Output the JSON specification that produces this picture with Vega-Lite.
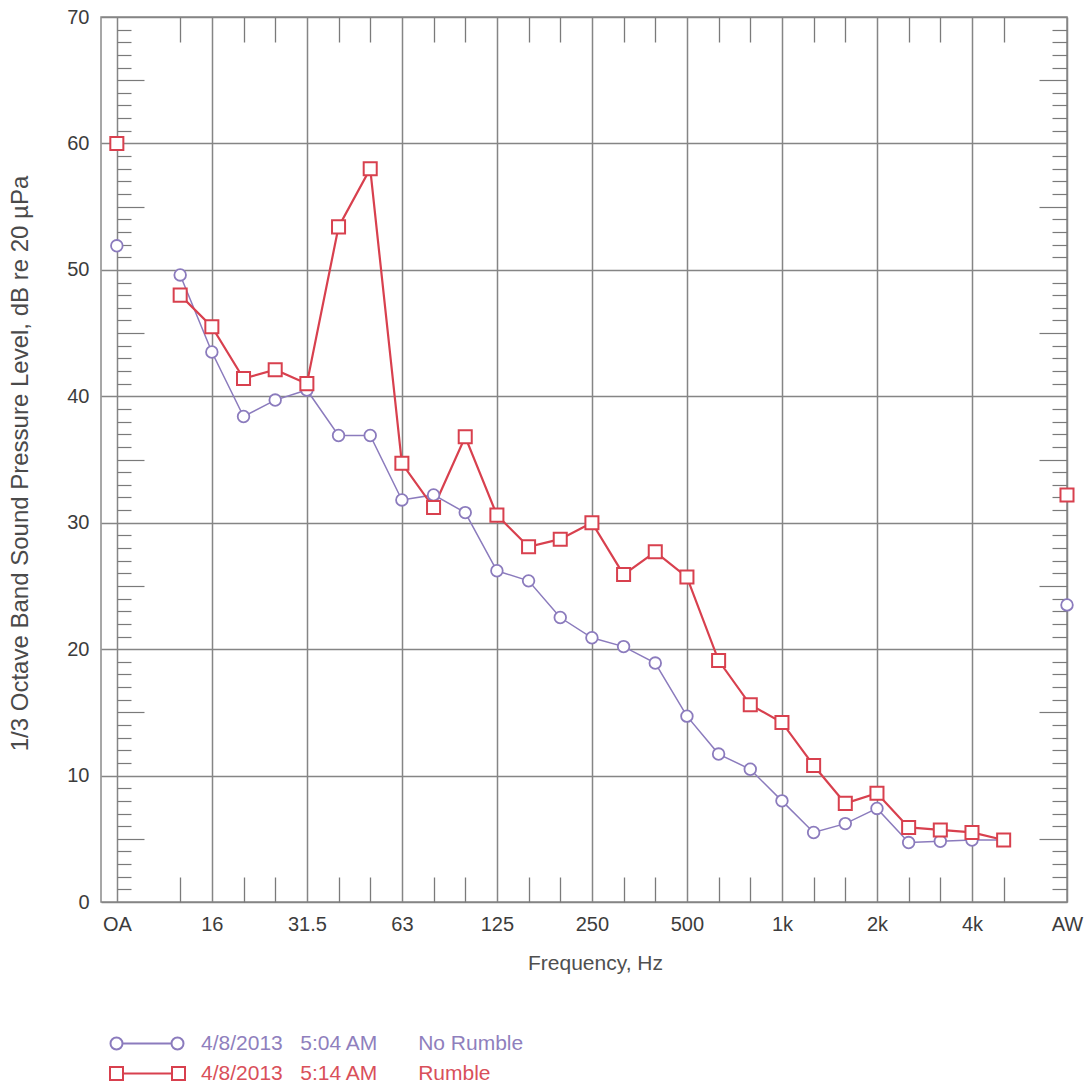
{
  "$schema": "https://vega.github.io/schema/vega-lite/v6.json",
  "width": 966,
  "height": 885,
  "autosize": {"type": "none"},
  "padding": {"left": 101, "top": 17, "right": 24, "bottom": 187},
  "background": "white",
  "config": {
    "font": "Liberation Sans",
    "view": {"stroke": "#8a8a8a", "strokeWidth": 1.5},
    "axis": {"domain": false, "labelFont": "Liberation Sans", "titleFont": "Liberation Sans"}
  },
  "data": {
    "values": [
      {"idx": 0, "band": "OA", "series": "No Rumble", "db": 51.9},
      {"idx": 2, "band": "12.5", "series": "No Rumble", "db": 49.6},
      {"idx": 3, "band": "16", "series": "No Rumble", "db": 43.5},
      {"idx": 4, "band": "20", "series": "No Rumble", "db": 38.4},
      {"idx": 5, "band": "25", "series": "No Rumble", "db": 39.7},
      {"idx": 6, "band": "31.5", "series": "No Rumble", "db": 40.5},
      {"idx": 7, "band": "40", "series": "No Rumble", "db": 36.9},
      {"idx": 8, "band": "50", "series": "No Rumble", "db": 36.9},
      {"idx": 9, "band": "63", "series": "No Rumble", "db": 31.8},
      {"idx": 10, "band": "80", "series": "No Rumble", "db": 32.2},
      {"idx": 11, "band": "100", "series": "No Rumble", "db": 30.8},
      {"idx": 12, "band": "125", "series": "No Rumble", "db": 26.2},
      {"idx": 13, "band": "160", "series": "No Rumble", "db": 25.4},
      {"idx": 14, "band": "200", "series": "No Rumble", "db": 22.5},
      {"idx": 15, "band": "250", "series": "No Rumble", "db": 20.9},
      {"idx": 16, "band": "315", "series": "No Rumble", "db": 20.2},
      {"idx": 17, "band": "400", "series": "No Rumble", "db": 18.9},
      {"idx": 18, "band": "500", "series": "No Rumble", "db": 14.7},
      {"idx": 19, "band": "630", "series": "No Rumble", "db": 11.7},
      {"idx": 20, "band": "800", "series": "No Rumble", "db": 10.5},
      {"idx": 21, "band": "1k", "series": "No Rumble", "db": 8.0},
      {"idx": 22, "band": "1.25k", "series": "No Rumble", "db": 5.5},
      {"idx": 23, "band": "1.6k", "series": "No Rumble", "db": 6.2},
      {"idx": 24, "band": "2k", "series": "No Rumble", "db": 7.4},
      {"idx": 25, "band": "2.5k", "series": "No Rumble", "db": 4.7},
      {"idx": 26, "band": "3.15k", "series": "No Rumble", "db": 4.8},
      {"idx": 27, "band": "4k", "series": "No Rumble", "db": 4.9},
      {"idx": 28, "band": "5k", "series": "No Rumble", "db": 4.9},
      {"idx": 30, "band": "AW", "series": "No Rumble", "db": 23.5},
      {"idx": 0, "band": "OA", "series": "Rumble", "db": 60.0},
      {"idx": 2, "band": "12.5", "series": "Rumble", "db": 48.0},
      {"idx": 3, "band": "16", "series": "Rumble", "db": 45.5},
      {"idx": 4, "band": "20", "series": "Rumble", "db": 41.4},
      {"idx": 5, "band": "25", "series": "Rumble", "db": 42.1},
      {"idx": 6, "band": "31.5", "series": "Rumble", "db": 41.0},
      {"idx": 7, "band": "40", "series": "Rumble", "db": 53.4},
      {"idx": 8, "band": "50", "series": "Rumble", "db": 58.0},
      {"idx": 9, "band": "63", "series": "Rumble", "db": 34.7},
      {"idx": 10, "band": "80", "series": "Rumble", "db": 31.2},
      {"idx": 11, "band": "100", "series": "Rumble", "db": 36.8},
      {"idx": 12, "band": "125", "series": "Rumble", "db": 30.6},
      {"idx": 13, "band": "160", "series": "Rumble", "db": 28.1},
      {"idx": 14, "band": "200", "series": "Rumble", "db": 28.7},
      {"idx": 15, "band": "250", "series": "Rumble", "db": 30.0},
      {"idx": 16, "band": "315", "series": "Rumble", "db": 25.9},
      {"idx": 17, "band": "400", "series": "Rumble", "db": 27.7},
      {"idx": 18, "band": "500", "series": "Rumble", "db": 25.7},
      {"idx": 19, "band": "630", "series": "Rumble", "db": 19.1},
      {"idx": 20, "band": "800", "series": "Rumble", "db": 15.6},
      {"idx": 21, "band": "1k", "series": "Rumble", "db": 14.2},
      {"idx": 22, "band": "1.25k", "series": "Rumble", "db": 10.8},
      {"idx": 23, "band": "1.6k", "series": "Rumble", "db": 7.8},
      {"idx": 24, "band": "2k", "series": "Rumble", "db": 8.6},
      {"idx": 25, "band": "2.5k", "series": "Rumble", "db": 5.9},
      {"idx": 26, "band": "3.15k", "series": "Rumble", "db": 5.7},
      {"idx": 27, "band": "4k", "series": "Rumble", "db": 5.5},
      {"idx": 28, "band": "5k", "series": "Rumble", "db": 4.9},
      {"idx": 30, "band": "AW", "series": "Rumble", "db": 32.2}
    ]
  },
  "resolve": {"axis": {"x": "independent", "y": "independent"}},
  "layer": [
    {
      "transform": [{"filter": "datum.idx >= 2 && datum.idx <= 28"}],
      "mark": {"type": "line"},
      "encoding": {
        "x": {
          "field": "idx", "type": "quantitative",
          "scale": {"domain": [-0.5, 30], "nice": false, "zero": false},
          "axis": {
            "orient": "bottom", "values": [0, 3, 6, 9, 12, 15, 18, 21, 24, 27, 30],
            "labelExpr": "['OA','16','31.5','63','125','250','500','1k','2k','4k','AW'][round(datum.value/3)]",
            "grid": true, "gridColor": "#858585", "gridWidth": 1.5,
            "ticks": false, "domain": false, "labelFlush": false, "labelOverlap": false,
            "labelFontSize": 20, "labelColor": "#3c3c3c", "labelPadding": 12,
            "title": "Frequency, Hz", "titleFontSize": 21, "titleFontWeight": "normal",
            "titleColor": "#4f4f4f", "titleX": 494, "titleY": 61, "titleBaseline": "middle"
          }
        },
        "y": {
          "field": "db", "type": "quantitative",
          "scale": {"domain": [0, 70], "nice": false, "zero": false},
          "axis": {
            "orient": "left", "values": [0, 10, 20, 30, 40, 50, 60, 70],
            "grid": true, "gridColor": "#858585", "gridWidth": 1.5,
            "ticks": false, "domain": false,
            "labelFontSize": 20, "labelColor": "#3c3c3c", "labelPadding": 12,
            "title": "1/3 Octave Band Sound Pressure Level, dB re 20 µPa",
            "titleFontSize": 24, "titleFontWeight": "normal", "titleColor": "#4a4a4a",
            "titleX": -81, "titleY": 446, "titleBaseline": "middle"
          }
        },
        "stroke": {
          "field": "series", "type": "nominal",
          "scale": {"domain": ["Rumble", "No Rumble"], "range": ["#d8404e", "#8b7bbd"]},
          "legend": null
        },
        "strokeWidth": {
          "field": "series", "type": "nominal",
          "scale": {"domain": ["Rumble", "No Rumble"], "range": [2.2, 1.5]},
          "legend": null
        }
      }
    },
    {
      "transform": [{"filter": "datum.series === 'No Rumble'"}],
      "mark": {"type": "point", "shape": "circle", "size": 135, "filled": false, "stroke": "#8b7bbd", "fill": "white", "strokeWidth": 1.8, "opacity": 1},
      "encoding": {
        "x": {
          "field": "idx", "type": "quantitative",
          "axis": {
            "orient": "bottom",
            "values": [2, 4, 5, 7, 8, 10, 11, 13, 14, 16, 17, 19, 20, 22, 23, 25, 26, 28],
            "tickSize": -25, "tickColor": "#7a7a7a", "tickWidth": 1.3,
            "labels": false, "grid": false, "domain": false, "title": null
          }
        },
        "y": {
          "field": "db", "type": "quantitative",
          "axis": {
            "orient": "left", "offset": -16,
            "values": [1,2,3,4,5,6,7,8,9,11,12,13,14,15,16,17,18,19,21,22,23,24,25,26,27,28,29,31,32,33,34,35,36,37,38,39,41,42,43,44,45,46,47,48,49,51,52,53,54,55,56,57,58,59,61,62,63,64,65,66,67,68,69],
            "tickSize": {"condition": {"test": "datum.value % 5 === 0", "value": -27}, "value": -14},
            "tickColor": "#7a7a7a", "tickWidth": 1.2,
            "labels": false, "grid": false, "domain": false, "title": null
          }
        }
      }
    },
    {
      "transform": [{"filter": "datum.series === 'Rumble'"}],
      "mark": {"type": "point", "shape": "square", "size": 170, "filled": false, "stroke": "#d8404e", "fill": "white", "strokeWidth": 2, "opacity": 1},
      "encoding": {
        "x": {
          "field": "idx", "type": "quantitative",
          "axis": {
            "orient": "top",
            "values": [2, 4, 5, 7, 8, 10, 11, 13, 14, 16, 17, 19, 20, 22, 23, 25, 26, 28],
            "tickSize": -25, "tickColor": "#7a7a7a", "tickWidth": 1.3,
            "labels": false, "grid": false, "domain": false, "title": null
          }
        },
        "y": {
          "field": "db", "type": "quantitative",
          "axis": {
            "orient": "right",
            "values": [1,2,3,4,5,6,7,8,9,11,12,13,14,15,16,17,18,19,21,22,23,24,25,26,27,28,29,31,32,33,34,35,36,37,38,39,41,42,43,44,45,46,47,48,49,51,52,53,54,55,56,57,58,59,61,62,63,64,65,66,67,68,69],
            "tickSize": {"condition": {"test": "datum.value % 5 === 0", "value": -28}, "value": -15},
            "tickColor": "#7a7a7a", "tickWidth": 1.2,
            "labels": false, "grid": false, "domain": false, "title": null
          }
        }
      }
    },
    {
      "transform": [{"filter": "false"}],
      "mark": {"type": "point", "size": 4, "filled": false, "strokeWidth": 2, "opacity": 1},
      "encoding": {
        "x": {"field": "idx", "type": "quantitative", "axis": null},
        "y": {"field": "db", "type": "quantitative", "axis": null},
        "color": {
          "field": "series", "type": "nominal",
          "scale": {"domain": ["No Rumble", "Rumble"], "range": ["#8b7bbd", "#d8404e"]},
          "legend": {
            "orient": "none", "legendX": 5, "legendY": 1016, "direction": "vertical",
            "title": null, "labelFontSize": 21, "labelFont": "Liberation Sans",
            "labelLimit": 800, "labelOffset": 74, "rowPadding": 8,
            "symbolSize": 4, "symbolStrokeWidth": 2, "symbolOpacity": 1,
            "labelExpr": "datum.value === 'Rumble' ? '4/8/2013\u00a0\u00a0\u00a05:14 AM\u00a0\u00a0\u00a0\u00a0\u00a0\u00a0\u00a0Rumble' : '4/8/2013\u00a0\u00a0\u00a05:04 AM\u00a0\u00a0\u00a0\u00a0\u00a0\u00a0\u00a0No Rumble'",
            "labelColor": {"expr": "datum.value === 'Rumble' ? '#d9505a' : '#8f7fbd'"}
          }
        },
        "shape": {
          "field": "series", "type": "nominal",
          "scale": {
            "domain": ["No Rumble", "Rumble"],
            "range": [
              "M-6,0A6,6,0,1,0,6,0A6,6,0,1,0,-6,0ZM6,0L55,0M55,0A6,6,0,1,0,67,0A6,6,0,1,0,55,0Z",
              "M-6.5,-6.5L6.5,-6.5L6.5,6.5L-6.5,6.5ZM6.5,0L55.5,0M55.5,-6.5L68.5,-6.5L68.5,6.5L55.5,6.5Z"
            ]
          }
        }
      }
    }
  ]
}
